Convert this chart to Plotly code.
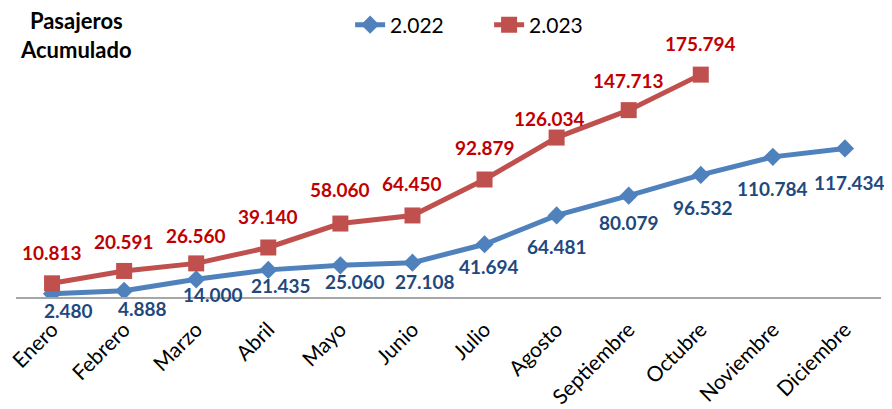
import plotly.graph_objects as go

months = ["Enero", "Febrero", "Marzo", "Abril", "Mayo", "Junio", "Julio",
          "Agosto", "Septiembre", "Octubre", "Noviembre", "Diciembre"]
pax_2022 = [2480, 4888, 14000, 21435, 25060, 27108, 41694, 64481, 80079, 96532, 110784, 117434]
pax_2023 = [10813, 20591, 26560, 39140, 58060, 64450, 92879, 126034, 147713, 175794]
series_names = ["2.022", "2.023"]
title_text = "Pasajeros<br>Acumulado"

# label offsets (style only), in pixels
off_2022 = [(16, -17), (18, -18), (17, -15), (13, -16), (15, -16), (13, -19),
            (4, -22), (0, -31), (0, -27), (2, -33), (0, -32), (5, -34)]
off_2023 = [(0, 31), (0, 29), (0, 28), (0, 31), (0, 34), (0, 32),
            (0, 32), (-7, 19), (0, 30), (0, 31)]

def fmt(v):
    return f"{v:,}".replace(",", ".")

BLUE = "#4F81BD"
RED = "#C0504D"
FONT = "Lato"

fig = go.Figure()
fig.add_trace(go.Scatter(
    x=months, y=pax_2022, name=series_names[0], mode="lines+markers",
    line=dict(color=BLUE, width=5),
    marker=dict(symbol="diamond", size=14, color=BLUE),
))
fig.add_trace(go.Scatter(
    x=months[:len(pax_2023)], y=pax_2023, name=series_names[1], mode="lines+markers",
    line=dict(color=RED, width=5),
    marker=dict(symbol="square", size=16, color=RED),
))

for m, v, (dx, dy) in zip(months, pax_2022, off_2022):
    fig.add_annotation(x=m, y=v, text=fmt(v), showarrow=False, xshift=dx, yshift=dy,
                       font=dict(family=FONT, size=19, color="#1F497D", weight="bold"))
for m, v, (dx, dy) in zip(months, pax_2023, off_2023):
    fig.add_annotation(x=m, y=v, text=fmt(v), showarrow=False, xshift=dx, yshift=dy,
                       font=dict(family=FONT, size=19, color="#C00000", weight="bold"))

fig.add_annotation(xref="paper", yref="paper", x=0.069, y=1.036, text=title_text,
                   showarrow=False, xanchor="center", yanchor="middle", align="center",
                   borderpad=0,
                   font=dict(family=FONT, size=22, color="black", weight="bold"))

fig.update_layout(
    width=884, height=401,
    margin=dict(l=8, r=11, t=36, b=112, autoexpand=False),
    paper_bgcolor="white", plot_bgcolor="white",
    showlegend=True,
    legend=dict(orientation="h", xref="container", yref="container",
                x=0.387, y=1 - 17 / 401, xanchor="left", yanchor="middle",
                entrywidth=94, entrywidthmode="pixels",
                font=dict(family=FONT, size=21, color="black"),
                bgcolor="rgba(0,0,0,0)"),
    xaxis=dict(range=[-0.5, 11.5], showgrid=False, zeroline=False, showline=True,
               linecolor="#A6A6A6", linewidth=2, tickangle=-45, ticks="outside",
               ticklen=10, tickcolor="rgba(0,0,0,0)",
               tickfont=dict(family=FONT, size=21, color="black"), fixedrange=True),
    yaxis=dict(range=[0, 200000], showgrid=False, zeroline=False, showline=False,
               showticklabels=False, ticks="", fixedrange=True),
)

fig.write_html("out.html")
